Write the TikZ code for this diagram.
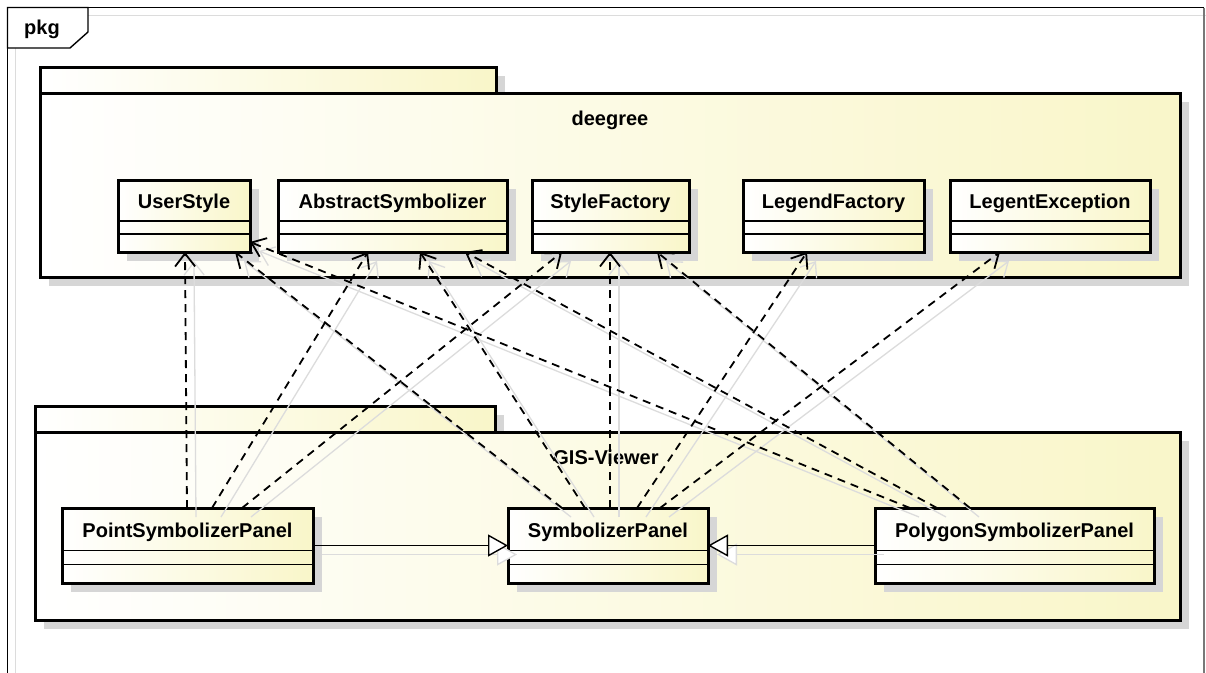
\documentclass[tikz,border=0pt]{standalone}
\usepackage{fontspec}
\setmainfont{Liberation Sans}
\usetikzlibrary{arrows.meta,calc}
\definecolor{umly}{RGB}{249,246,201}
\definecolor{shd}{RGB}{214,214,214}
\definecolor{lshd}{RGB}{220,220,220}
\definecolor{framegray}{RGB}{120,120,120}
\newcommand\umlfont{\fontsize{20}{24}\selectfont\bfseries}
\newcommand\umlclass[6]{%
  \fill[shd] ({#2+9},{#3+9}) rectangle ({#4+9},{#5+9});
  \node[cls, minimum width={#4-#2}, minimum height={#5-#3}] (#1) at (#2,#3) {};
  \draw[comp] ($(#1.north west)!0.57!(#1.south west)$) -- ($(#1.north east)!0.57!(#1.south east)$);
  \draw[comp] ($(#1.north west)!0.75!(#1.south west)$) -- ($(#1.north east)!0.75!(#1.south east)$);
  \node[font=\umlfont, inner sep=0pt] (#1-name) at ($(#1.north)!0.33!(#1.south)$) {#6};
}
\begin{document}
\begin{tikzpicture}[x=1pt,y=-1pt,
  cls/.style={draw=black, line width=3pt, left color=white, right color=umly,
    rectangle, inner sep=0pt, outer sep=0pt, anchor=north west},
  comp/.style={draw=black, line width=1.4pt},
  pkgbox/.style={draw=black, line width=3pt, left color=white, right color=umly},
  dep/.style={draw=black, line width=1.8pt, dash pattern=on 8pt off 6pt,
    -{Straight Barb[length=13pt,width=20pt]}},
  depshadow/.style={draw=lshd, line width=1.3pt,
    -{Straight Barb[length=13pt,width=20pt]}, transform canvas={shift={(9,9)}}},
  gen/.style={draw=black, line width=1.4pt,
    -{Triangle[length=20pt,width=22pt,fill=white]}},
  genshadow/.style={draw=lshd, line width=1.3pt,
    -{Triangle[length=20pt,width=22pt,fill=white]}, transform canvas={shift={(9,9)}}}]
\useasboundingbox (0,0) rectangle (1206,672);
\fill[white] (0,0) rectangle (1206,672);
% frame
\draw[lshd, line width=1pt] (15,700) -- (15,15) -- (1206,15);
\draw[black, line width=1.4pt] (7.5,700) -- (7.5,7.5) -- (1204,7.5);
\draw[framegray, line width=1.4pt] (1204,7.5) -- (1204,700);
\filldraw[fill=white, draw=black, line width=1.4pt] (7.5,7.5) -- (88,7.5) -- (88,32) -- (70,48) -- (7.5,48) -- cycle;
\node[font=\umlfont, inner sep=0pt] (pkg) at (42,29) {pkg};
% package deegree
\fill[shd] (49,76) rectangle (505,102);
\fill[shd] (49,102) rectangle (1189,286);
\path[pkgbox] (40,67) rectangle (496,93);
\path[pkgbox] (40,93) rectangle (1180,277);
\node[font=\umlfont, inner sep=0pt] (deegree) at (610,120) {deegree};
% package GIS-Viewer
\fill[shd] (44,415) rectangle (504,441);
\fill[shd] (44,441) rectangle (1189,629);
\path[pkgbox] (35,406) rectangle (495,432);
\path[pkgbox] (35,432) rectangle (1180,620);
\node[font=\umlfont, inner sep=0pt] (gis) at (606,457) {GIS-Viewer};
% classes
\umlclass{us}{118}{180}{250}{252}{UserStyle}
\umlclass{as}{278}{180}{507}{252}{AbstractSymbolizer}
\umlclass{sf}{532}{180}{689}{252}{StyleFactory}
\umlclass{lf}{743}{180}{924}{252}{LegendFactory}
\umlclass{le}{950}{180}{1150}{252}{LegentException}
\umlclass{psp}{62}{508}{313}{583}{PointSymbolizerPanel}
\umlclass{sp}{508}{508}{708}{583}{SymbolizerPanel}
\umlclass{pgs}{875}{508}{1154}{583}{PolygonSymbolizerPanel}
% connector shadows
\foreach \s/\sx/\t/\ta/\tx/\ty in {psp/125/us/south west/67/0, psp/150/as/south west/90/0,
  psp/180/sf/south west/30/0, sp/54/us/south west/117/0, sp/77/as/south west/142/0,
  sp/102/sf/south west/78/0, sp/129/lf/south west/64/0, sp/152/le/south west/50/0,
  pgs/35/us/south east/0/-10, pgs/62/as/south west/187/0, pgs/95/sf/south west/125/0}{
  \draw[depshadow] ($(\s.north west)+(\sx,0)$) -- ($(\t.\ta)+(\tx,\ty)$);
}
\draw[genshadow] (psp.east) -- (sp.west);
\draw[genshadow] (pgs.west) -- (sp.east);
% connectors
\foreach \s/\sx/\t/\ta/\tx/\ty in {psp/125/us/south west/67/0, psp/150/as/south west/90/0,
  psp/180/sf/south west/30/0, sp/54/us/south west/117/0, sp/77/as/south west/142/0,
  sp/102/sf/south west/78/0, sp/129/lf/south west/64/0, sp/152/le/south west/50/0,
  pgs/35/us/south east/0/-10, pgs/62/as/south west/187/0, pgs/95/sf/south west/125/0}{
  \draw[dep] ($(\s.north west)+(\sx,0)$) -- ($(\t.\ta)+(\tx,\ty)$);
}
\draw[gen] (psp.east) -- (sp.west);
\draw[gen] (pgs.west) -- (sp.east);
\end{tikzpicture}
\end{document}
